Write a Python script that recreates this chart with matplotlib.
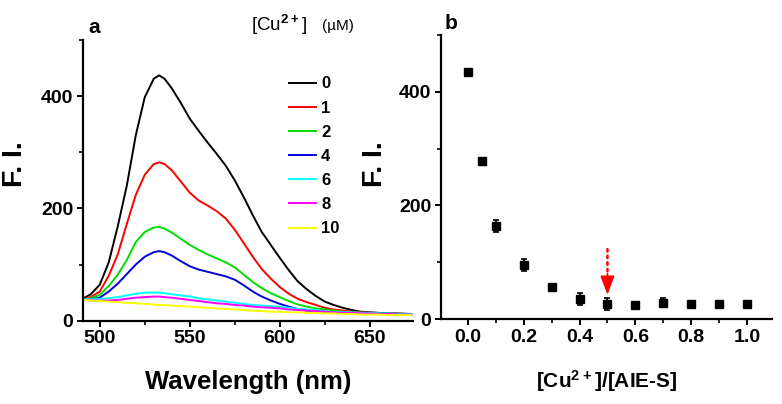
import matplotlib
matplotlib.use('Agg')
from matplotlib import pyplot as plt
from matplotlib.ticker import MultipleLocator

plt.rcParams['font.family'] = ['Liberation Sans', 'DejaVu Sans']
plt.rcParams['font.weight'] = 'bold'
plt.rcParams['axes.labelweight'] = 'bold'
plt.rcParams['mathtext.fontset'] = 'custom'
plt.rcParams['mathtext.rm'] = 'Liberation Sans:bold'
plt.rcParams['mathtext.default'] = 'rm'

# panel a: emission spectra
wavelength = [491, 495, 500, 505, 510, 515, 520, 525, 530, 533, 536, 540, 545, 550,
              555, 560, 565, 570, 575, 580, 585, 590, 595, 600, 605, 610, 615, 620,
              625, 630, 635, 640, 645, 650, 655, 660, 665, 673]
fi_0 = [40, 47, 64, 104, 168, 240, 330, 398, 431, 437, 431, 414, 388, 360,
        338, 317, 297, 276, 250, 220, 188, 158, 135, 112, 90, 70, 56, 44,
        34, 28, 23, 19, 16, 15, 14, 13, 13, 12]
fi_1 = [39, 42, 52, 80, 118, 172, 224, 260, 279, 282, 279, 268, 248, 228,
        214, 205, 195, 182, 162, 138, 114, 92, 75, 60, 48, 39, 33, 28,
        23, 20, 18, 16, 15, 14, 13, 13, 12, 12]
fi_2 = [38, 40, 46, 62, 82, 108, 140, 158, 166, 167, 164, 157, 146, 135,
        126, 118, 111, 104, 95, 82, 69, 58, 49, 42, 35, 29, 25, 22,
        20, 18, 16, 15, 14, 14, 13, 12, 12, 11]
fi_4 = [38, 38, 41, 52, 66, 83, 100, 114, 122, 124, 122, 116, 106, 97,
        91, 87, 83, 79, 73, 63, 52, 43, 36, 30, 25, 21, 18, 17,
        16, 15, 14, 14, 13, 13, 13, 12, 12, 11]
fi_6 = [38, 38, 39, 40, 42, 45, 48, 50, 50, 50, 49, 47, 45, 43,
        40, 38, 36, 34, 32, 30, 28, 27, 26, 25, 23, 21, 20, 19,
        17, 16, 15, 15, 14, 14, 13, 13, 12, 12]
fi_8 = [37, 36, 36, 36, 37, 39, 41, 42, 43, 43, 42, 41, 39, 37,
        35, 33, 31, 30, 28, 27, 25, 24, 23, 22, 20, 19, 18, 17,
        16, 15, 14, 14, 13, 13, 12, 12, 11, 11]
fi_10 = [37, 36, 35, 34, 33, 32, 31, 30, 29, 28, 28, 27, 26, 25,
         24, 23, 22, 21, 20, 19, 18, 17, 16, 16, 15, 15, 14, 14,
         13, 13, 12, 12, 11, 11, 11, 10, 10, 10]
cu_labels = ['0', '1', '2', '4', '6', '8', '10']
spectra = [fi_0, fi_1, fi_2, fi_4, fi_6, fi_8, fi_10]
colors = ['black', '#ff0000', '#00dd00', '#0000dd', '#00ffff', '#ff00ff', '#ffff00']

# panel b: intensity vs ratio
ratio = [0.0, 0.05, 0.1, 0.2, 0.3, 0.4, 0.5, 0.6, 0.7, 0.8, 0.9, 1.0]
fi_ratio = [434, 278, 164, 95, 56, 35, 26, 25, 29, 27, 27, 26]
fi_err = [3, 4, 10, 10, 4, 11, 11, 3, 8, 5, 5, 4]

fig = plt.figure(figsize=(7.82, 4.04), dpi=100)
ax1 = fig.add_axes([83 / 782, 1 - 320.7 / 404, 330 / 782, 280.7 / 404])
ax2 = fig.add_axes([441 / 782, 1 - 319 / 404, 331 / 782, 284 / 404])

for vals, lab, c in zip(spectra, cu_labels, colors):
    ax1.plot(wavelength, vals, color=c, lw=1.4, label=lab)
ax1.set_xlim(490.7, 674)
ax1.set_ylim(0, 500)
ax1.xaxis.set_major_locator(MultipleLocator(50))
ax1.xaxis.set_minor_locator(MultipleLocator(25))
ax1.yaxis.set_major_locator(MultipleLocator(200))
ax1.yaxis.set_minor_locator(MultipleLocator(100))
ax1.set_xlabel('Wavelength (nm)', fontsize=18.5, labelpad=16)
ax1.set_ylabel('F. I.', fontsize=20.5)
ax1.yaxis.set_label_coords(-0.166, 0.558)
leg = ax1.legend(loc='upper left', bbox_to_anchor=(0.6, 0.9), frameon=False,
                 fontsize=12, handlelength=1.6, handletextpad=0.3,
                 labelspacing=0.55, borderpad=0)
ax1.text(0.51, 1.055, '[Cu$^{2+}$]', transform=ax1.transAxes,
         fontsize=13.5, fontweight='normal', va='center')
ax1.text(0.724, 1.05, '(\u00b5M)', transform=ax1.transAxes,
         fontsize=11, fontweight='normal', va='center')
ax1.text(0.015, 1.045, 'a', transform=ax1.transAxes, fontsize=15, va='center')

ax2.errorbar(ratio, fi_ratio, yerr=fi_err, fmt='s', color='black', ms=6,
             capsize=2.5, elinewidth=1.2, capthick=1.2)
ax2.annotate('', xy=(0.5, 79), xytext=(0.5, 128),
             arrowprops=dict(arrowstyle='-', color='red', lw=1.8, linestyle=':'))
ax2.annotate('', xy=(0.5, 46), xytext=(0.5, 80),
             arrowprops=dict(facecolor='red', edgecolor='red', width=0.1,
                             headwidth=9, headlength=12, shrink=0))
ax2.set_xlim(-0.097, 1.09)
ax2.set_ylim(0, 500)
ax2.xaxis.set_major_locator(MultipleLocator(0.2))
ax2.xaxis.set_minor_locator(MultipleLocator(0.1))
ax2.yaxis.set_major_locator(MultipleLocator(200))
ax2.yaxis.set_minor_locator(MultipleLocator(100))
ax2.set_xlabel('[Cu$^{2+}$]/[AIE-S]', fontsize=15, labelpad=16)
ax2.set_ylabel('F. I.', fontsize=20.5)
ax2.yaxis.set_label_coords(-0.160, 0.546)
ax2.text(0.01, 1.04, 'b', transform=ax2.transAxes, fontsize=15, va='center')

for ax in (ax1, ax2):
    ax.spines['top'].set_visible(False)
    ax.spines['right'].set_visible(False)
    ax.spines['left'].set_linewidth(1.6)
    ax.spines['bottom'].set_linewidth(1.6)
    ax.tick_params(which='major', length=4, width=1.4, labelsize=14, pad=3)
    ax.tick_params(which='minor', length=3, width=1.2)

fig.savefig('out.png', dpi=100)
